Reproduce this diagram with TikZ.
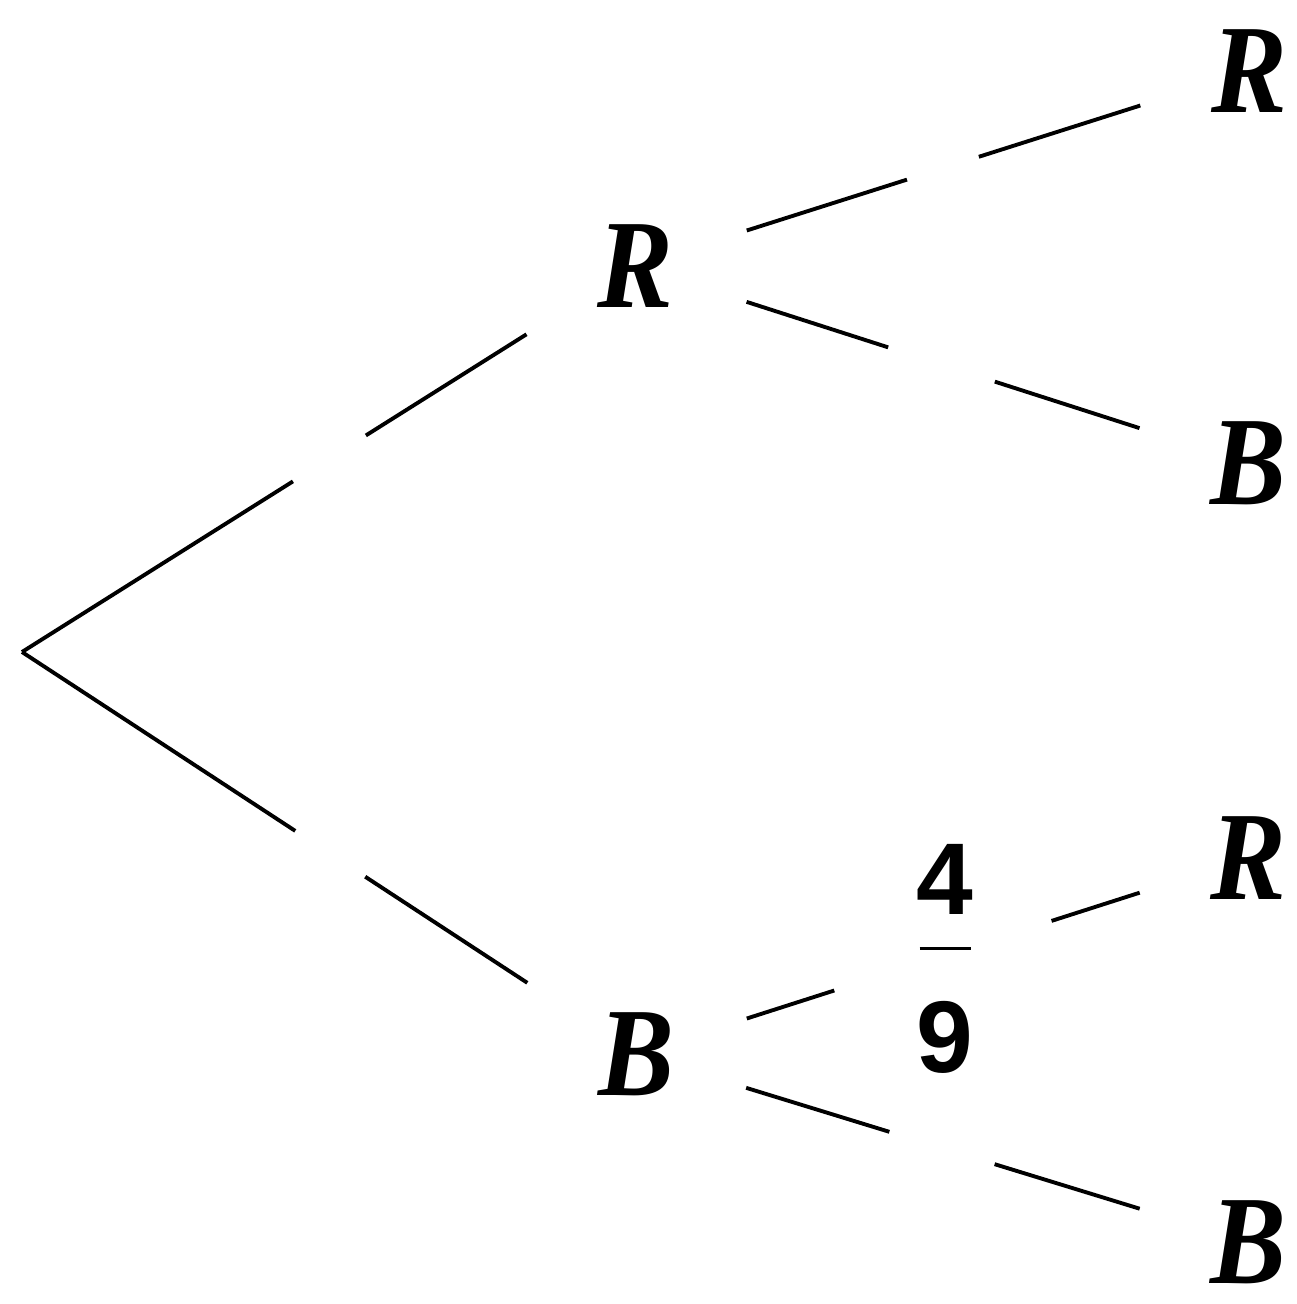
\documentclass[tikz,border=0pt]{standalone}
\usepackage{fontspec}
\usepackage{tikz}
\usetikzlibrary{calc}
\newfontfamily\treefont[FakeStretch=0.9]{Liberation Serif}
\newfontfamily\fracfont{Liberation Sans}

\begin{document}
\begin{tikzpicture}[
	outcome/.style={font=\treefont\bfseries\itshape\fontsize{36}{40}\selectfont, inner sep=0pt},
	branch/.style={line width=1.1pt},
	prob/.style={font=\fracfont\bfseries\fontsize{29}{35}\selectfont, inner sep=0pt}]
		{
			\def\tipend{0.823}
			\useasboundingbox (0,0) rectangle (12.97,13.04);

			\coordinate (root) at (0.22,6.52);
			\node[outcome] (R) at (6.35,10.38) {R};
			\node[outcome] (B) at (6.36,2.50) {B};
			\node[outcome] (RR) at (12.49,12.33) {R};
			\node[outcome] (RB) at (12.48,8.41) {B};
			\node[outcome] (BR) at (12.48,4.46) {R};
			\node[outcome] (BB) at (12.48,0.62) {B};

			\foreach \a/\b/\s/\p/\q in {root/R/0/0.442/0.561, root/B/0/0.445/0.559,
				R/RR/0.182/0.443/0.560, R/RB/0.182/0.413/0.587,
				B/BR/0.181/0.324/0.679, B/BB/0.180/0.414/0.586}
			{
				\draw[branch] ($(\a)!\s!(\b)$) -- ($(\a)!\p!(\b)$)
					($(\a)!\q!(\b)$) -- ($(\a)!\tipend!(\b)$);
			}

			\node[prob] (pBR) at (9.45,3.35)
				{\begin{tabular}{@{}c@{}}4\\[-25pt]\rule{0.51cm}{0.8pt}\\9\end{tabular}};
		}
\end{tikzpicture}
\end{document}
